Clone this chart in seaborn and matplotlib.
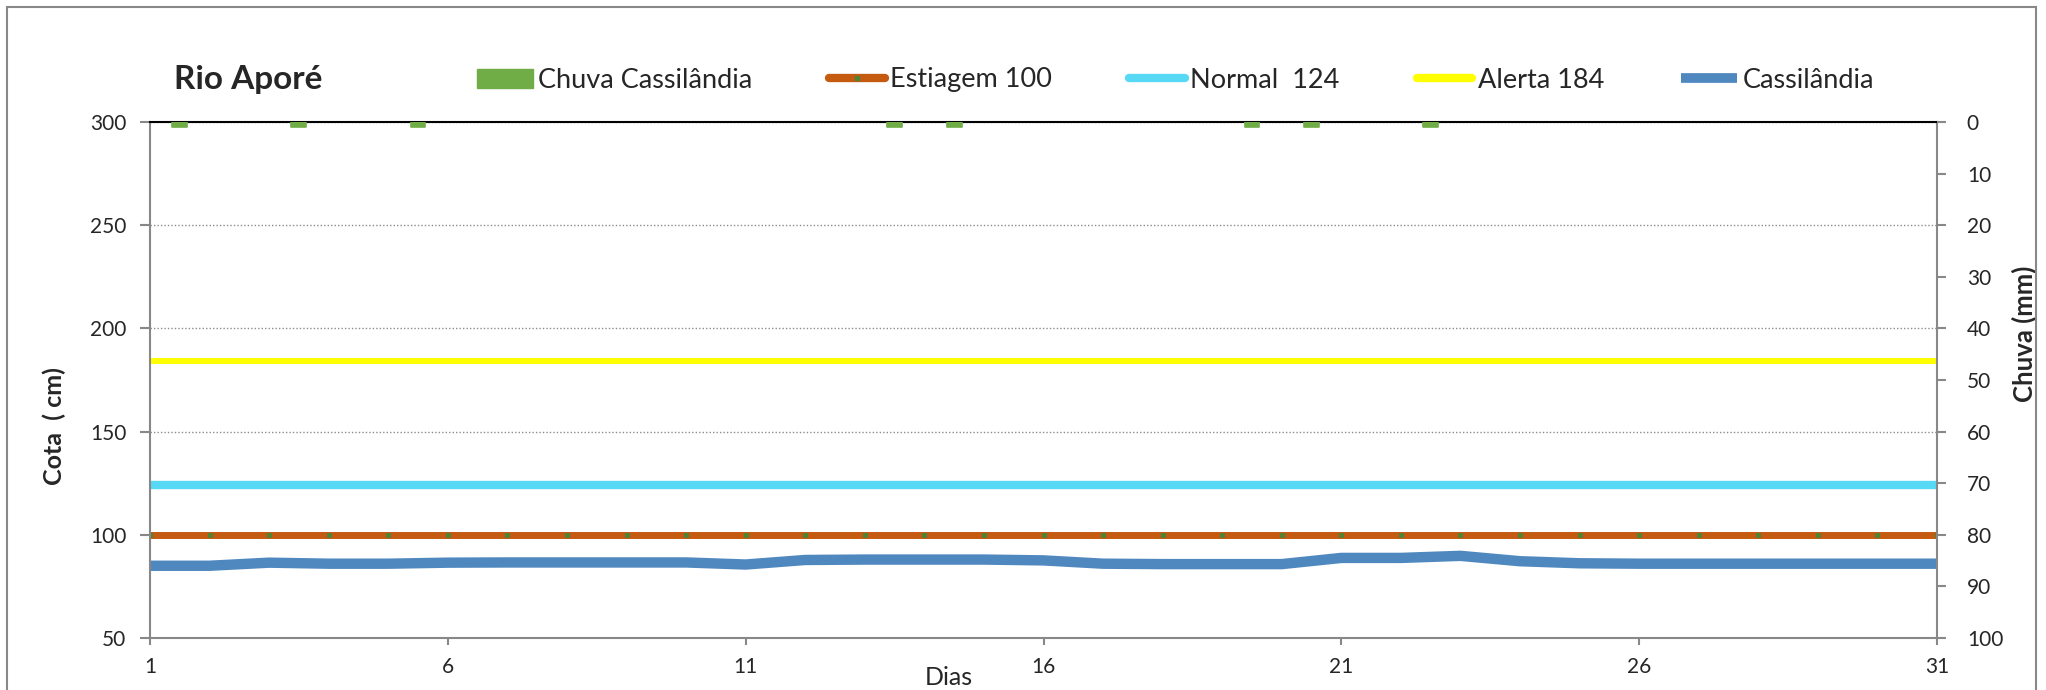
import numpy as np
import pandas as pd
import seaborn as sns
import matplotlib.pyplot as plt
from matplotlib.lines import Line2D
from matplotlib.patches import Patch, Rectangle

# Data
dias = list(range(1, 32))
cota_cassilandia = [85, 85, 86.5, 86, 86, 86.5, 86.6, 86.6, 86.6, 86.6, 85.6,
                    87.8, 88, 88, 88, 87.6, 86, 85.8, 85.8, 85.8, 88.8, 88.8,
                    89.8, 87.2, 86.2, 86, 86, 86, 86, 86, 86]
estiagem = 100
normal = 124
alerta = 184

# rain (mm) between consecutive readings, only these days show a bar
chuva_dias = [1, 3, 5, 13, 14, 19, 20, 22]
chuva_mm = [0.9, 0.9, 0.9, 0.9, 0.9, 0.9, 0.9, 0.9]

x_ticks = [1, 6, 11, 16, 21, 26, 31]
cota_ticks = [50, 100, 150, 200, 250, 300]
chuva_ticks = list(range(0, 101, 10))

# Colours
c_chuva = '#70AD47'
c_est = '#C55A11'
c_est_mk = '#548235'
c_normal = '#57D9F5'
c_alerta = '#FFFF00'
c_cass = '#4F88BF'
c_axis = '#888888'

sns.set_style('white')
plt.rcParams['font.family'] = ['Lato', 'DejaVu Sans']

df = pd.DataFrame({
    'dia': dias,
    'cota': cota_cassilandia,
    'estiagem': np.full(len(dias), estiagem),
    'normal': np.full(len(dias), normal),
    'alerta': np.full(len(dias), alerta),
})

fig = plt.figure(figsize=(20.46, 6.9), dpi=100)
ax = fig.add_axes([150 / 2046, 1 - 638 / 690, (1937 - 150) / 2046, (638 - 122) / 690])

sns.lineplot(data=df, x='dia', y='alerta', ax=ax, color=c_alerta, lw=4.3,
             solid_capstyle='butt')
sns.lineplot(data=df, x='dia', y='normal', ax=ax, color=c_normal, lw=6,
             solid_capstyle='round')
sns.lineplot(data=df, x='dia', y='estiagem', ax=ax, color=c_est, lw=5,
             marker='s', markersize=3, markerfacecolor=c_est_mk,
             markeredgecolor=c_est_mk, solid_capstyle='butt')
sns.lineplot(data=df, x='dia', y='cota', ax=ax, color=c_cass, lw=7.5,
             solid_capstyle='butt', solid_joinstyle='round')

ax.set_xlim(1, 31)
ax.set_ylim(50, 300)
ax.set_xticks(x_ticks)
ax.set_yticks(cota_ticks)
ax.grid(axis='y', color='#8c8c8c', linestyle=(0, (1, 1.5)), lw=1)
ax.grid(axis='x', visible=False)
for s in ['left', 'bottom', 'right']:
    ax.spines[s].set_color(c_axis)
    ax.spines[s].set_linewidth(1.5)
ax.spines['top'].set_color('black')
ax.spines['top'].set_linewidth(1.5)

ax.tick_params(axis='y', left=True, length=7, width=1.5, color=c_axis,
               labelsize=15, pad=10)
ax.tick_params(axis='x', bottom=True, length=5, width=1.5, color=c_axis,
               labelsize=15, pad=9)

ax.set_ylabel('Cota  ( cm)', fontsize=18, fontweight='bold')
ax.yaxis.set_label_coords(-0.047, 0.41)
ax.set_xlabel('Dias', fontsize=18)
ax.xaxis.set_label_coords(0.447, -0.055)

# secondary axis for rain
ax2 = ax.twinx()
ax2.bar([d + 0.5 for d in chuva_dias], chuva_mm, width=0.25, color=c_chuva,
        edgecolor=c_chuva, lw=1.2, joinstyle='round')
ax2.set_ylim(100, 0)
ax2.set_yticks(chuva_ticks)
ax2.set_xlim(1, 31)
ax2.tick_params(axis='y', right=True, length=6.5, width=1.5, color=c_axis,
                labelsize=15, pad=15)
for s in ax2.spines.values():
    s.set_visible(False)
ax2.set_ylabel('Chuva (mm)', fontsize=18.5, fontweight='bold', rotation=90)
ax2.yaxis.set_label_coords(1.042, 0.59)

# title and legend
fig.text(174 / 2046, 1 - 79 / 690, 'Rio Aporé', fontsize=24, fontweight='bold',
         ha='left', va='center')

handles = [
    Patch(facecolor=c_chuva, edgecolor=c_chuva),
    Line2D([], [], color=c_est, lw=6, marker='s', markersize=3,
           markerfacecolor=c_est_mk, markeredgecolor=c_est_mk),
    Line2D([], [], color=c_normal, lw=6, solid_capstyle='round'),
    Line2D([], [], color=c_alerta, lw=6),
    Line2D([], [], color=c_cass, lw=7, solid_capstyle='butt'),
]
labels = ['Chuva Cassilândia', 'Estiagem 100', 'Normal  124', 'Alerta 184',
          'Cassilândia']
fig.legend(handles, labels, loc='center left',
           bbox_to_anchor=(477 / 2046, 1 - 80 / 690),
           bbox_transform=fig.transFigure, ncol=5, frameon=False,
           fontsize=19.5, handlelength=2.05, handleheight=0.7, handletextpad=0.2,
           columnspacing=2.85, borderpad=0, borderaxespad=0)

# outer chart frame
fig.add_artist(Rectangle((7 / 2046, -0.05), (2036 - 7) / 2046, 0.05 + (690 - 7) / 690,
                         transform=fig.transFigure, fill=False, ec=c_axis,
                         lw=1.5, clip_on=False))

fig.savefig('out.png', dpi=100)
